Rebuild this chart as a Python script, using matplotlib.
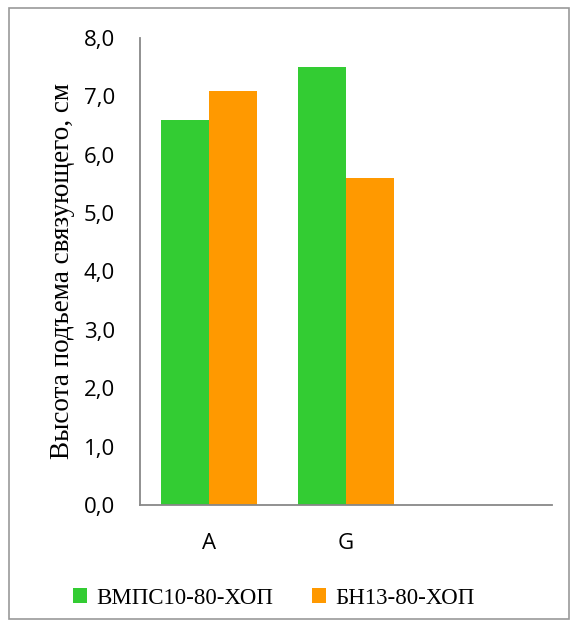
import matplotlib.pyplot as plt
from matplotlib.patches import Rectangle
import numpy as np

categories = ['A', 'G', '']
vmps = [6.6, 7.5, np.nan]
bn = [7.1, 5.6, np.nan]
labels = ['ВМПС10-80-ХОП', 'БН13-80-ХОП']
yticks = [0, 1, 2, 3, 4, 5, 6, 7, 8]

green = '#33cc33'
orange = '#ff9900'

fig = plt.figure(figsize=(5.78, 6.27), dpi=100)
ax = fig.add_axes([0.2422, 0.1946, 0.7128, 0.7448])

x = np.arange(len(categories))
w = 0.35
ax.bar(x - w / 2, vmps, w, color=green, label=labels[0])
ax.bar(x + w / 2, bn, w, color=orange, label=labels[1])

ax.set_xlim(-0.5, 2.5)
ax.set_ylim(0, 8)
ax.set_yticks(yticks)
ax.set_yticklabels([f'{v:.1f}'.replace('.', ',') for v in yticks],
                   fontsize=16, family='Open Sans')
ax.set_xticks(x)
ax.set_xticklabels(categories, fontsize=16, family='Open Sans')
ax.tick_params(axis='y', length=0, pad=18)
ax.tick_params(axis='x', length=0, pad=20)

for s in ['top', 'right']:
    ax.spines[s].set_visible(False)
ax.spines['left'].set_color('#888888')
ax.spines['bottom'].set_color('#888888')
ax.spines['left'].set_linewidth(1.3)
ax.spines['bottom'].set_linewidth(1.3)

ax.set_ylabel('Высота подъема связующего, см', fontsize=19.5,
              family='Liberation Serif', labelpad=6)

fig.legend(loc='center', bbox_to_anchor=(0.474, 0.046), ncol=2, frameon=False,
           prop={'family': 'Liberation Serif', 'size': 16.5},
           handlelength=0.6, handleheight=0.6, handletextpad=0.4,
           columnspacing=1.7)

fig.patches.append(Rectangle((0.016, 0.012), 0.968, 0.975,
                             transform=fig.transFigure, fill=False,
                             edgecolor='#999999', linewidth=1.2))

fig.savefig('out.png', dpi=100)
